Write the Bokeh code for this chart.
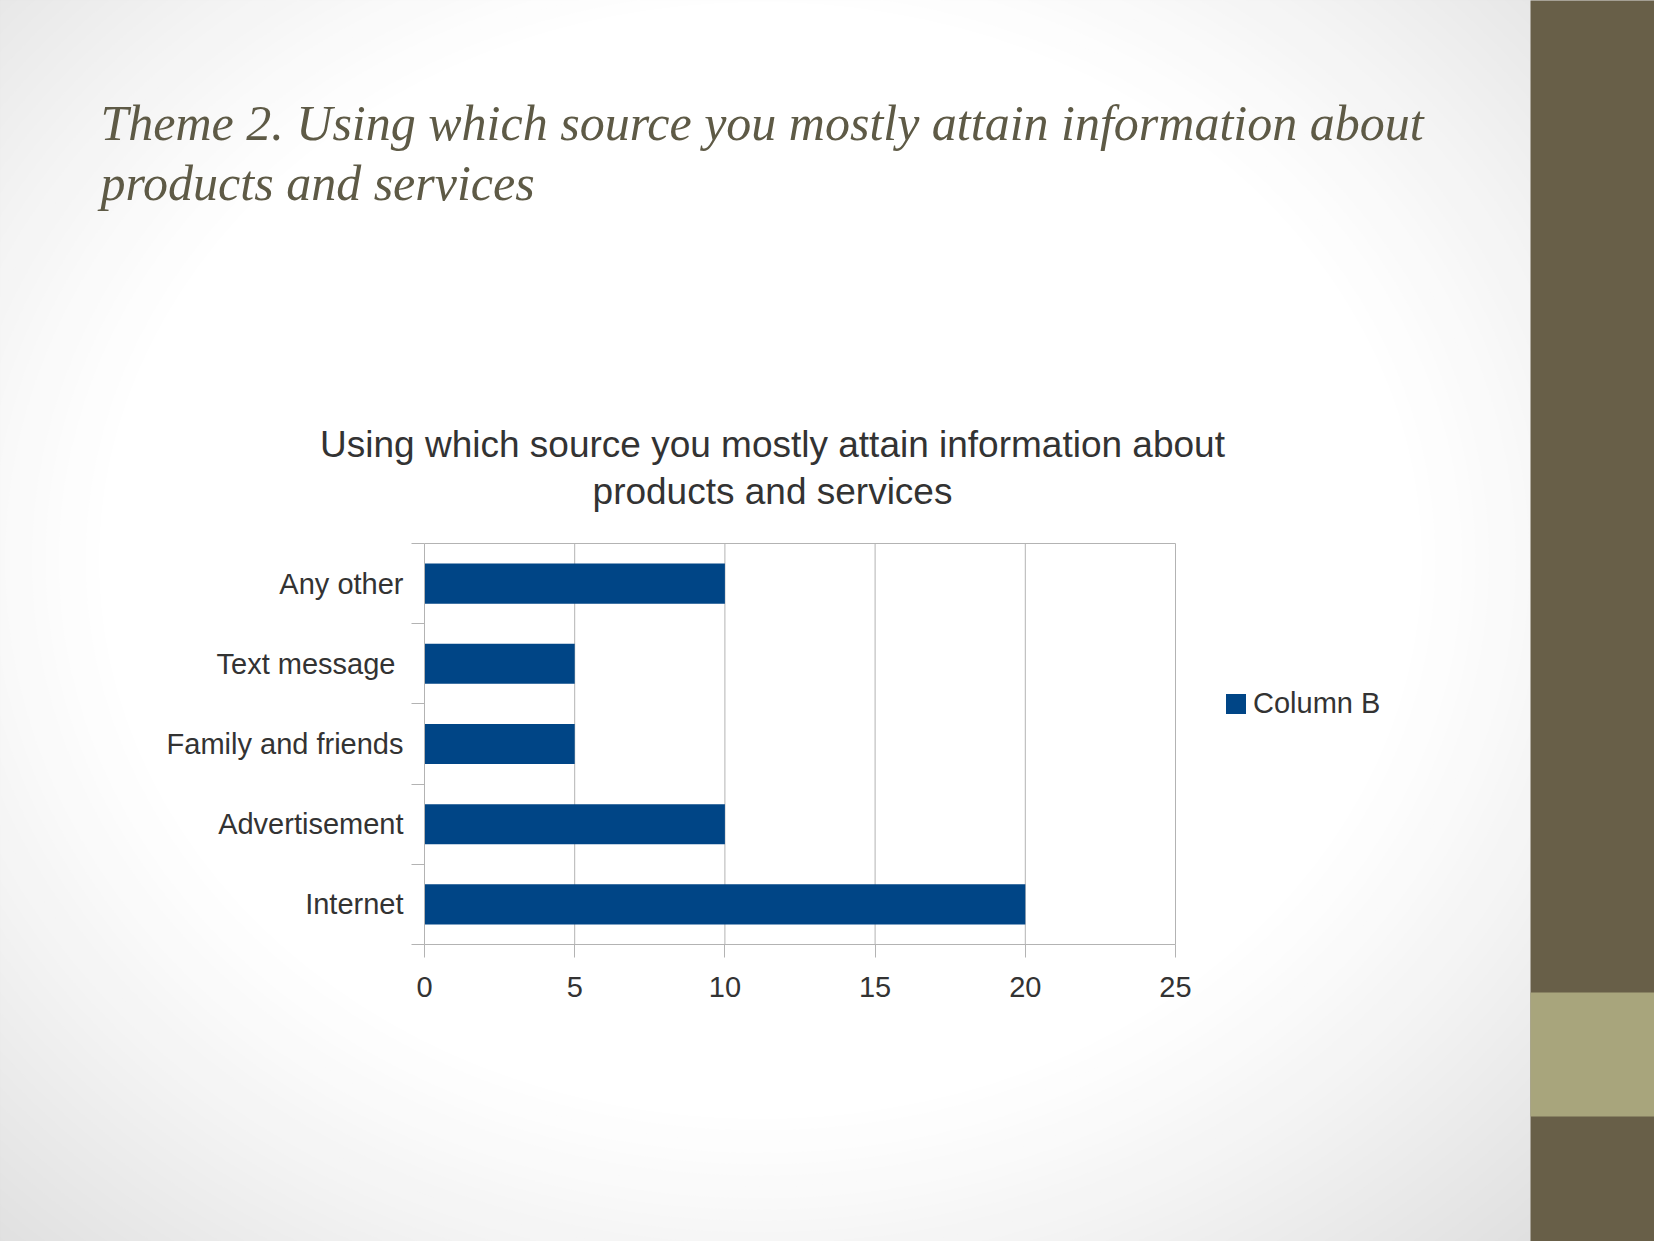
import numpy as np
from bokeh.plotting import figure
from bokeh.models import (ColumnDataSource, FixedTicker, Label, BoxAnnotation,
                          PolyAnnotation, Legend, LegendItem, Range1d, LinearAxis)
from bokeh.embed import file_html
from bokeh.resources import INLINE

# ---- data ----
categories = ["Internet", "Advertisement", "Family and friends", "Text message ", "Any other"]
values = [20, 10, 5, 5, 10]
series_name = "Column B"
x_ticks = [0, 5, 10, 15, 20, 25]
page_title = ["Theme 2. Using which source you mostly attain information about",
              "products and services"]
chart_title = ["Using which source you mostly attain information about",
               "products and services"]

# ---- layout (canvas pixels) ----
W, H = 1654, 1241
L, R, T, B = 424, 1175, 543, 944   # chart plot area
XMAX = x_ticks[-1]
NCAT = len(categories)

CHART_FONT = "Liberation Sans"
TEXT_COLOR = "#333333"
GRID = "#b3b3b3"
BAR = "#004586"

# frame covers whole canvas; data ranges chosen so the plot area sits at L..R, T..B
xs_per_px = XMAX / (R - L)
ys_per_px = NCAT / (B - T)
x_range = Range1d(-L * xs_per_px, XMAX + (W - R) * xs_per_px)
y_range = Range1d(-(H - B) * ys_per_px, NCAT + T * ys_per_px)

p = figure(width=W, height=H, output_backend="svg", toolbar_location=None,
           x_range=x_range, y_range=y_range, x_axis_location=None, y_axis_location=None,
           min_border=0)
p.border_fill_color = "#dadada"
p.background_fill_color = "#dadada"
p.outline_line_color = None
p.grid.visible = False

# screen helpers (frame-relative, y up) for decorations
def sx(X):
    return X
def sy(Y):
    return H - Y

# ---- background radial gradient (decoration) ----
cx, cy = 760, 560
ax_, ay_ = 900, 760
th = np.linspace(0, 2 * np.pi, 120)
N = 60
for k in range(N):
    d = 1.6 - (1.6 - 0.72) * k / (N - 1)
    t = min(max((d - 0.72) / (1.32 - 0.72), 0), 1)
    g = int(round(255 - (255 - 218) * t ** 1.2))
    col = "#%02x%02x%02x" % (g, g, g)
    p.add_layout(PolyAnnotation(xs=list(sx(cx + d * ax_ * np.cos(th))),
                                ys=list(sy(cy + d * ay_ * np.sin(th))),
                                xs_units="screen", ys_units="screen",
                                fill_color=col, fill_alpha=1.0, line_color=None, level="image"))

# ---- side bar (decoration) ----
def box(x0, x1, y0, y1, color):
    p.add_layout(BoxAnnotation(left=sx(x0), right=sx(x1), top=sy(y0), bottom=sy(y1),
                               left_units="screen", right_units="screen", top_units="screen",
                               bottom_units="screen", fill_color=color, fill_alpha=1,
                               line_color=None, level="image"))
box(1530, W + 5, -5, H + 5, "#685f48")
box(1530, W + 5, 992, 1116, "#a8a57c")

# ---- grid lines and plot-area outline ----
p.segment(x0=x_ticks[1:], y0=0, x1=x_ticks[1:], y1=NCAT, line_color=GRID, line_width=1)
p.segment(x0=[0], y0=[NCAT], x1=[XMAX], y1=[NCAT], line_color=GRID, line_width=1)

# ---- bars ----
pos = list(range(NCAT))
src = ColumnDataSource(dict(y=[i + 0.5 for i in pos], v=values, cat=categories))
r = p.hbar(y="y", right="v", left=0, height=0.5, source=src, fill_color=BAR, line_color=None)

# ---- axes (fixed at the plot-area edges) ----
xaxis = LinearAxis(fixed_location=0, bounds=(0, XMAX), ticker=FixedTicker(ticks=x_ticks))
yaxis = LinearAxis(fixed_location=0, bounds=(0, NCAT),
                   ticker=FixedTicker(ticks=[i + 0.5 for i in pos], minor_ticks=list(range(NCAT + 1))))
yaxis.major_label_overrides = {i + 0.5: c for i, c in zip(pos, categories)}
for ax in (xaxis, yaxis):
    ax.axis_line_color = GRID
    ax.major_tick_line_color = GRID
    ax.minor_tick_line_color = GRID
    ax.major_label_text_font = CHART_FONT
    ax.major_label_text_font_size = "29px"
    ax.major_label_text_color = TEXT_COLOR
xaxis.major_tick_out = 13
xaxis.major_tick_in = 0
xaxis.minor_tick_line_color = None
xaxis.major_label_standoff = 19
yaxis.major_tick_out = 0
yaxis.major_tick_in = 0
yaxis.minor_tick_out = 13
yaxis.minor_tick_in = 0
yaxis.major_label_standoff = 8
p.add_layout(xaxis, "below")
p.add_layout(yaxis, "left")

# ---- legend ----
leg = Legend(items=[LegendItem(label=series_name, renderers=[r])],
             location=(sx(1223), sy(720)), border_line_color=None,
             background_fill_alpha=0, padding=0, margin=0,
             glyph_width=25, glyph_height=25, label_standoff=5,
             label_text_font=CHART_FONT, label_text_font_size="29px",
             label_text_color=TEXT_COLOR, label_height=25)
p.add_layout(leg)

# ---- chart title ----
for i, line in enumerate(chart_title):
    p.add_layout(Label(x=sx(772), y=sy(444 + 47 * i), x_units="screen", y_units="screen",
                       text=line, text_align="center", text_baseline="alphabetic",
                       text_font=CHART_FONT, text_font_size="37px", text_color=TEXT_COLOR))

# ---- page title ----
for i, line in enumerate(page_title):
    p.add_layout(Label(x=sx(100), y=sy(122 + 60 * i), x_units="screen", y_units="screen",
                       text=line, text_align="left", text_baseline="alphabetic",
                       text_font="Liberation Serif", text_font_style="italic",
                       text_font_size="50px", text_color="#5e5a46"))

open("out.html", "w").write(file_html(p, INLINE))
